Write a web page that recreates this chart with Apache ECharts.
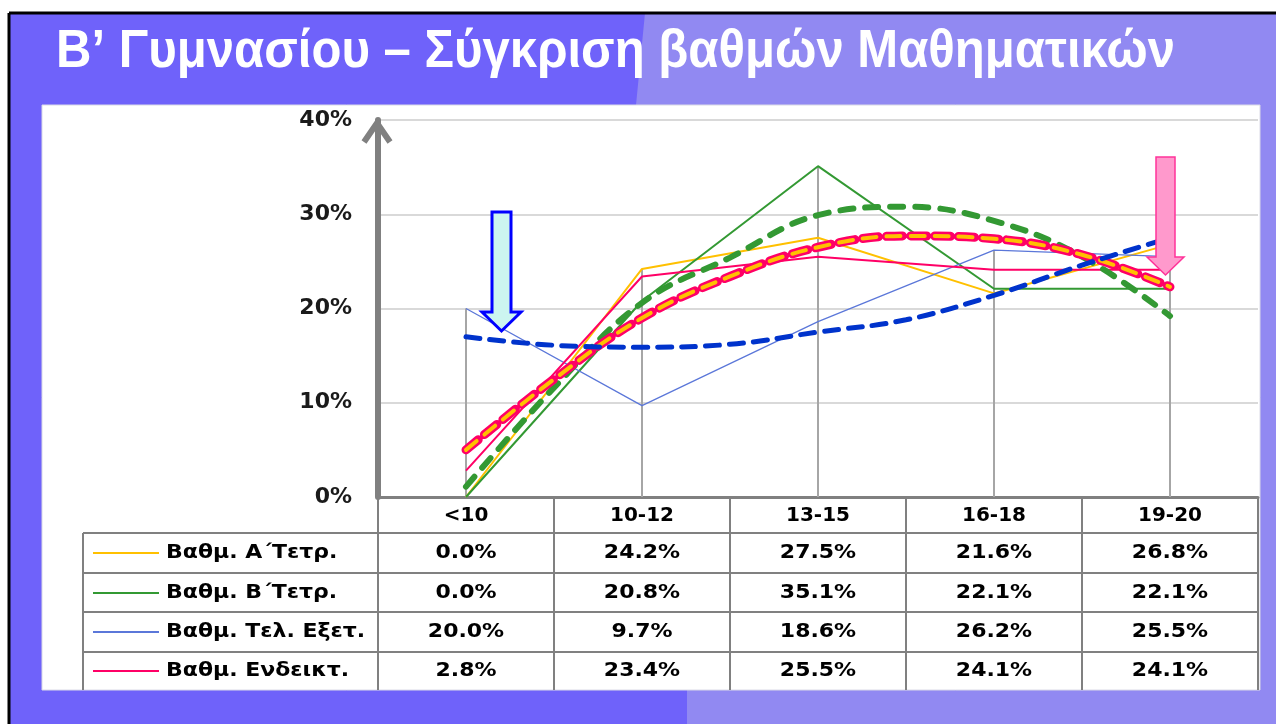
<!DOCTYPE html>
<html>
<head>
<meta charset="utf-8">
<script src="https://cdn.jsdelivr.net/npm/echarts@6.0.0/dist/echarts.min.js"></script>
<style>
html, body { margin: 0; padding: 0; background: #fff; }
#main { width: 1276px; height: 724px; }
</style>
</head>
<body>
<div id="main"></div>
<script>
var titleText = 'Β’ Γυμνασίου – Σύγκριση βαθμών Μαθηματικών';
var categories = ['<10', '10-12', '13-15', '16-18', '19-20'];
var seriesNames = ['Βαθμ. Α΄Τετρ.', 'Βαθμ. Β΄Τετρ.', 'Βαθμ. Τελ. Εξετ.', 'Βαθμ. Ενδεικτ.'];
var gradeA = [0.0, 24.2, 27.5, 21.6, 26.8];
var gradeB = [0.0, 20.8, 35.1, 22.1, 22.1];
var gradeFinal = [20.0, 9.7, 18.6, 26.2, 25.5];
var gradeReport = [2.8, 23.4, 25.5, 24.1, 24.1];

// trend curves, every half category (0 = '<10')
var trendX = [0, 0.5, 1, 1.5, 2, 2.5, 3, 3.5, 4];
var trendB = [1.1, 11.6, 20.6, 25.4, 29.9, 30.8, 29.3, 25.5, 19.2];
var trendFinal = [17.0, 16.1, 15.9, 16.2, 17.5, 18.8, 21.4, 24.6, 27.5];
var trendReport = [5.0, 12.5, 19.0, 23.4, 26.5, 27.7, 27.4, 25.7, 22.3];

var colors = ['#FFC000', '#339933', '#5B77D9', '#FF0066'];
var rows = [gradeA, gradeB, gradeFinal, gradeReport];

var chart = echarts.init(document.getElementById('main'));

// drop lines go up to the highest point of each category
var drops = categories.map(function (c, i) {
    return Math.max(gradeA[i], gradeB[i], gradeFinal[i], gradeReport[i]);
});

function pts(arr) {
    return trendX.map(function (x, i) { return [x, arr[i]]; });
}

var boldFont = 'DejaVu Sans';

chart.setOption({
    backgroundColor: '#ffffff',
    animation: false,
    grid: { left: 378, right: 18, top: 120, bottom: 227 },
    xAxis: [{
        type: 'category',
        data: categories,
        axisLine: { lineStyle: { color: '#808080', width: 3 } },
        axisTick: { show: true, length: 193, lineStyle: { color: '#808080', width: 2 } },
        axisLabel: { color: '#000', fontSize: 20, fontWeight: 'bold', fontFamily: boldFont, margin: 9 },
        splitLine: { show: false }
    }, {
        type: 'value',
        min: -0.5,
        max: 4.5,
        show: false
    }],
    yAxis: {
        type: 'value',
        min: 0,
        max: 40,
        interval: 10,
        axisLine: { show: true, onZero: false, lineStyle: { color: '#808080', width: 6 } },
        axisTick: { show: false },
        axisLabel: { formatter: '{value}%', color: '#1a1a1a', fontSize: 22, fontWeight: 'bold', fontFamily: boldFont, margin: 26 },
        splitLine: { lineStyle: { color: '#D9D9D9', width: 2 } }
    },
    series: [
        { type: 'bar', data: drops, barWidth: 2, silent: true, itemStyle: { color: '#A6A6A6' }, z: 1 },
        { name: seriesNames[0], type: 'line', data: gradeA, symbol: 'none', lineStyle: { color: colors[0], width: 2 }, z: 3 },
        { name: seriesNames[1], type: 'line', data: gradeB, symbol: 'none', lineStyle: { color: colors[1], width: 2 }, z: 3 },
        { name: seriesNames[2], type: 'line', data: gradeFinal, symbol: 'none', lineStyle: { color: colors[2], width: 1.3 }, z: 3 },
        { name: seriesNames[3], type: 'line', data: gradeReport, symbol: 'none', lineStyle: { color: colors[3], width: 2 }, z: 3 },
        { type: 'line', xAxisIndex: 1, data: pts(trendB), smooth: 0.4, symbol: 'none',
          lineStyle: { color: '#339933', width: 6, type: [13, 12], cap: 'round' }, z: 4 },
        { type: 'line', xAxisIndex: 1, data: pts(trendReport), smooth: 0.4, symbol: 'none',
          lineStyle: { color: '#FF0066', width: 9, type: [16, 8], cap: 'round' }, z: 5 },
        { type: 'line', xAxisIndex: 1, data: pts(trendReport), smooth: 0.4, symbol: 'none',
          lineStyle: { color: '#FFC000', width: 4, type: [14, 10], cap: 'round' }, z: 6 },
        { type: 'line', xAxisIndex: 1, data: pts(trendFinal), smooth: 0.4, symbol: 'none',
          lineStyle: { color: '#0033CC', width: 5, type: [14, 10], cap: 'round' }, z: 7 }
    ]
});

// squeeze the title to the width it has in the slide
var ctx = document.createElement('canvas').getContext('2d');
ctx.font = 'bold 53px "Liberation Sans"';
var titleScale = 1119 / ctx.measureText(titleText).width;

// background, frame, panel, title, table and arrows
var g = [];
g.push({ type: 'rect', z: -20, shape: { x: 9, y: 13, width: 1267, height: 711 }, style: { fill: '#6F62FA' } });
g.push({ type: 'polygon', z: -19, shape: { points: [[645, 13], [1276, 13], [1276, 724], [687, 724], [687, 690], [636, 105]] }, style: { fill: '#9189F2' } });
g.push({ type: 'line', z: -18, shape: { x1: 9, y1: 13, x2: 1276, y2: 13 }, style: { stroke: '#000', lineWidth: 3 } });
g.push({ type: 'line', z: -18, shape: { x1: 9, y1: 13, x2: 9, y2: 724 }, style: { stroke: '#000', lineWidth: 3 } });
g.push({ type: 'rect', z: -17, shape: { x: 42, y: 105, width: 1218, height: 585 }, style: { fill: '#ffffff', stroke: '#DADAE6', lineWidth: 1 } });
g.push({ type: 'text', z: 10, x: 56, y: 52, scaleX: titleScale, style: {
    text: titleText, fill: '#ffffff', fontSize: 53, fontWeight: 'bold',
    fontFamily: 'Liberation Sans', verticalAlign: 'middle'
} });

// y axis arrow head
g.push({ type: 'polyline', z: 10, shape: { points: [[364, 142], [377, 123], [390, 142]] },
    style: { stroke: '#808080', lineWidth: 6, fill: null } });

// table
var rowLines = [533, 573, 612, 652];
var rowMid = [553, 593, 632, 671];
rowLines.forEach(function (y) {
    g.push({ type: 'line', z: 10, shape: { x1: 83, y1: y, x2: 1258, y2: y }, style: { stroke: '#808080', lineWidth: 2 } });
});
g.push({ type: 'line', z: 10, shape: { x1: 83, y1: 533, x2: 83, y2: 690 }, style: { stroke: '#808080', lineWidth: 2 } });

rows.forEach(function (vals, r) {
    g.push({ type: 'line', z: 10, shape: { x1: 93, y1: rowMid[r], x2: 159, y2: rowMid[r] }, style: { stroke: colors[r], lineWidth: 2 } });
    g.push({ type: 'text', z: 10, x: 166, y: rowMid[r], scaleX: 1.1, style: {
        text: seriesNames[r], fill: '#000', fontSize: 20, fontWeight: 'bold', fontFamily: boldFont, verticalAlign: 'middle'
    } });
    vals.forEach(function (v, i) {
        var px = chart.convertToPixel({ xAxisIndex: 0 }, categories[i]);
        g.push({ type: 'text', z: 10, x: px, y: rowMid[r], scaleX: 1.1, style: {
            text: v.toFixed(1) + '%', fill: '#000', fontSize: 20, fontWeight: 'bold', fontFamily: boldFont,
            align: 'center', verticalAlign: 'middle'
        } });
    });
});

// arrows
g.push({ type: 'polygon', z: 20, shape: { points: [[492, 212], [511, 212], [511, 312], [521, 312], [501.5, 331], [482, 312], [492, 312]] },
    style: { fill: '#CCF5F0', stroke: '#0000FF', lineWidth: 3 } });
g.push({ type: 'polygon', z: 20, shape: { points: [[1156, 157], [1175, 157], [1175, 257], [1184, 257], [1165.5, 275], [1147, 257], [1156, 257]] },
    style: { fill: '#FF99CC', stroke: '#FF3399', lineWidth: 1.5 } });

chart.setOption({ graphic: g });
</script>
</body>
</html>
